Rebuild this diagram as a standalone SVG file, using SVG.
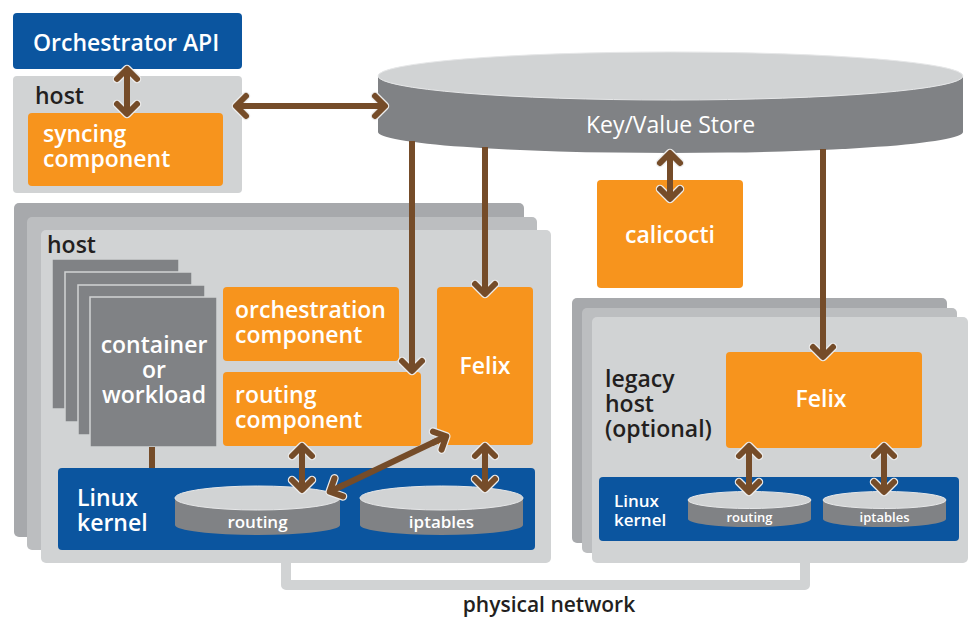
<svg xmlns="http://www.w3.org/2000/svg" width="974" height="617" viewBox="0 0 974 617">
<style>
text{font-family:"Open Sans","Noto Sans","Liberation Sans",sans-serif;font-weight:600;font-size:23px}
.w{fill:#ffffff}
.d{fill:#231f20}
.or{fill:#f7941d}
.bl{fill:#0b559f}
.h1{fill:#a7a9ac}
.h2{fill:#bcbec0}
.h3{fill:#d1d3d4}
.ct{fill:#808285;stroke:#d1d3d4;stroke-width:1.5}
.side{fill:#808285}
.top{fill:#d1d3d4;stroke:#e6e7e8;stroke-width:1}
.c{fill:none;stroke:#754c29;stroke-width:6}
.a{marker-end:url(#ah)}
.aa{marker-start:url(#ah);marker-end:url(#ah)}
</style>
<defs>
<marker id="ah" markerUnits="userSpaceOnUse" markerWidth="40" markerHeight="40" viewBox="-20 -20 40 40" refX="0" refY="0" orient="auto-start-reverse" overflow="visible">
<path d="M-10,-10 L0,0 L-10,10" fill="none" stroke="#ececec" stroke-width="8.5" stroke-linejoin="round" stroke-linecap="round"/>
<path d="M-10,-10 L0,0 L-10,10" fill="none" stroke="#754c29" stroke-width="6" stroke-linejoin="round" stroke-linecap="round"/>
<path d="M-16,0 L-1,0" fill="none" stroke="#754c29" stroke-width="6"/>
</marker>
</defs>

<g id="network">
<path d="M286,560 L286,585 L805,585 L805,560" fill="none" stroke="#d1d3d4" stroke-width="10" stroke-linejoin="round"/>
<text x="549" y="612" text-anchor="middle" class="d" style="font-size:21px">physical network</text>
</g>

<g id="orchestrator-api">
<rect x="13" y="13" width="229" height="56" rx="4" class="bl"/>
<text x="33" y="51" class="w">Orchestrator API</text>
</g>

<g id="host-top">
<rect x="13" y="76" width="229" height="117" rx="4" class="h3"/>
<text x="35" y="104" class="d">host</text>
</g>

<g id="syncing-component">
<rect x="28" y="113" width="195" height="73" rx="4" class="or"/>
<text x="43" y="142" class="w">syncing</text>
<text x="43" y="167" class="w">component</text>
</g>

<g id="host-main">
<rect x="14" y="203" width="510" height="334" rx="5" class="h1"/>
<rect x="27" y="217" width="510" height="333" rx="5" class="h2"/>
<rect x="41" y="230" width="510" height="333" rx="5" class="h3"/>
<text x="47" y="253" class="d">host</text>
</g>

<g id="workloads">
<rect x="52" y="259" width="127" height="150" class="ct"/>
<rect x="65" y="272" width="127" height="150" class="ct"/>
<rect x="78" y="285" width="127" height="150" class="ct"/>
<rect x="90" y="297" width="127" height="150" class="ct"/>
<text x="154" y="353" text-anchor="middle" class="w">container</text>
<text x="154" y="378" text-anchor="middle" class="w">or</text>
<text x="154" y="403" text-anchor="middle" class="w">workload</text>
</g>

<g id="orchestration-component">
<rect x="223" y="287" width="176" height="74" rx="4" class="or"/>
<text x="235" y="318" class="w">orchestration</text>
<text x="235" y="343" class="w">component</text>
</g>

<g id="routing-component">
<rect x="223" y="372" width="198" height="74" rx="4" class="or"/>
<text x="235" y="403" class="w">routing</text>
<text x="235" y="428" class="w">component</text>
</g>

<g id="felix">
<rect x="437" y="287" width="96" height="158" rx="4" class="or"/>
<text x="485" y="374" text-anchor="middle" class="w">Felix</text>
</g>

<g id="linux-kernel">
<rect x="58" y="468" width="477" height="82" rx="4" class="bl"/>
<text x="77" y="506" class="w">Linux</text>
<text x="77" y="531" class="w">kernel</text>
</g>

<g id="routing-table">
<path d="M175,498 L175,525 A82.5,10 0 0 0 340,525 L340,498 Z" class="side"/>
<ellipse cx="257.5" cy="498" rx="82.5" ry="12" class="top"/>
<text x="257.5" y="528" text-anchor="middle" class="w" style="font-size:17px">routing</text>
</g>

<g id="iptables">
<path d="M360,498 L360,525 A81.5,10 0 0 0 523,525 L523,498 Z" class="side"/>
<ellipse cx="441.5" cy="498" rx="81.5" ry="12" class="top"/>
<text x="441.5" y="528" text-anchor="middle" class="w" style="font-size:17px">iptables</text>
</g>

<g id="calicocti">
<rect x="597" y="180" width="146" height="108" rx="4" class="or"/>
<text x="670" y="243" text-anchor="middle" class="w">calicocti</text>
</g>

<g id="legacy-host">
<rect x="572" y="298" width="375" height="245" rx="5" class="h1"/>
<rect x="582" y="308" width="375" height="245" rx="5" class="h2"/>
<rect x="592" y="317" width="376" height="246" rx="5" class="h3"/>
<text x="605" y="387" class="d">legacy</text>
<text x="605" y="412" class="d">host</text>
<text x="605" y="437" class="d">(optional)</text>
</g>

<g id="legacy-felix">
<rect x="726" y="352" width="196" height="96" rx="4" class="or"/>
<text x="821" y="407" text-anchor="middle" class="w">Felix</text>
</g>

<g id="legacy-linux-kernel">
<rect x="599" y="477" width="360" height="64" rx="4" class="bl"/>
<text x="614" y="507" class="w" style="font-size:17px">Linux</text>
<text x="614" y="526" class="w" style="font-size:17px">kernel</text>
</g>

<g id="legacy-routing">
<path d="M688,500 L688,519 A61.5,8 0 0 0 811,519 L811,500 Z" class="side"/>
<ellipse cx="749.5" cy="500" rx="61.5" ry="8.5" class="top"/>
<text x="749.5" y="522" text-anchor="middle" class="w" style="font-size:13px">routing</text>
</g>

<g id="legacy-iptables">
<path d="M823,500 L823,519 A61.5,8 0 0 0 946,519 L946,500 Z" class="side"/>
<ellipse cx="884.5" cy="500" rx="61.5" ry="8.5" class="top"/>
<text x="884.5" y="522" text-anchor="middle" class="w" style="font-size:13px">iptables</text>
</g>

<g id="key-value-store">
<path d="M378,76 L378,132 A292.5,21 0 0 0 963,132 L963,76 Z" class="side"/>
<ellipse cx="670.5" cy="76" rx="292.5" ry="24" class="top"/>
<text x="670.5" y="133" text-anchor="middle" class="w" style="font-weight:500">Key/Value Store</text>
</g>

<g id="connectors">
<line x1="127" y1="69" x2="127" y2="114" class="c aa"/>
<line x1="236" y1="106" x2="385" y2="106" class="c aa"/>
<line x1="670" y1="153" x2="670" y2="199" class="c aa"/>
<line x1="412" y1="141" x2="412" y2="371" class="c a"/>
<line x1="485" y1="147" x2="485" y2="294" class="c a"/>
<line x1="823" y1="149" x2="823" y2="357" class="c a"/>
<line x1="152" y1="447" x2="152" y2="468" class="c"/>
<line x1="302" y1="446" x2="302" y2="490" class="c aa"/>
<line x1="485" y1="446" x2="485" y2="489" class="c aa"/>
<line x1="329.7" y1="491.7" x2="446.3" y2="436.3" class="c aa"/>
<line x1="749" y1="446" x2="749" y2="492" class="c aa"/>
<line x1="884" y1="446" x2="884" y2="492" class="c aa"/>
</g>
</svg>
